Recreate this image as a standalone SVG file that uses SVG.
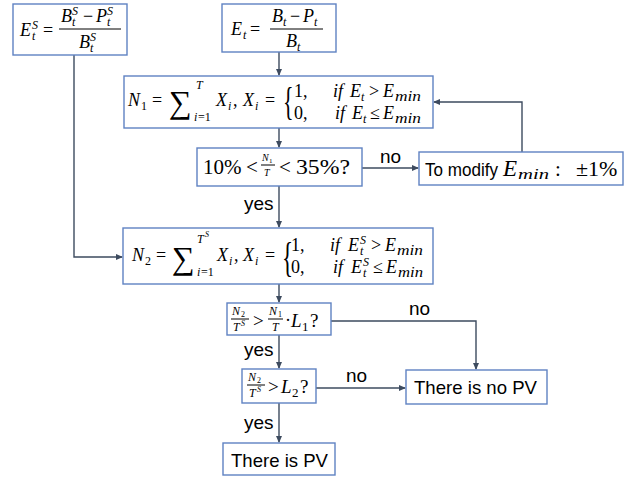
<svg xmlns="http://www.w3.org/2000/svg" width="634" height="477" viewBox="0 0 634 477">
<defs>
<marker id="ah" markerWidth="7" markerHeight="6" refX="6" refY="3" orient="auto" markerUnits="userSpaceOnUse">
<path d="M0,0 L7,3 L0,6 Z" fill="#3d4b5f"/>
</marker>
<style>
.box{fill:#fff;stroke:#5f82c2;stroke-width:1.4}
.con{fill:none;stroke:#3d4b5f;stroke-width:1.4}
.arr{marker-end:url(#ah)}
.mi{font-family:"Liberation Serif","DejaVu Serif",serif;font-style:italic;font-size:18px;fill:#000}
.mn{font-family:"Liberation Serif","DejaVu Serif",serif;font-size:18px;fill:#000}
.si{font-family:"Liberation Serif","DejaVu Serif",serif;font-style:italic;font-size:12px;fill:#000}
.sn{font-family:"Liberation Serif","DejaVu Serif",serif;font-size:12px;fill:#000}
.ti{font-family:"Liberation Serif","DejaVu Serif",serif;font-style:italic;font-size:12px;fill:#000}
.tn{font-family:"Liberation Serif","DejaVu Serif",serif;font-size:8px;fill:#000}
.lbl{font-family:"Liberation Sans","Open Sans",sans-serif;font-size:19px;fill:#000}
.bar{stroke:#000;stroke-width:1}
</style>
</defs>
<g id="connectors">
<path class="con arr" d="M279,52 V75"/>
<path class="con arr" d="M279,128 V147"/>
<path class="con arr" d="M279,186 V227"/>
<path class="con arr" d="M279,284 V302"/>
<path class="con arr" d="M279,335 V368"/>
<path class="con arr" d="M279,403 V442"/>
<path class="con arr" d="M362,168 H418"/>
<path class="con arr" d="M522,152 V102 H434"/>
<path class="con arr" d="M74,55 V257 H122"/>
<path class="con arr" d="M331,321 H476 V369"/>
<path class="con arr" d="M316,388 H405"/>
<text class="lbl" x="380" y="163">no</text>
<text class="lbl" x="409" y="315">no</text>
<text class="lbl" x="346" y="382">no</text>
<text class="lbl" x="244" y="210">yes</text>
<text class="lbl" x="244" y="356">yes</text>
<text class="lbl" x="244" y="429">yes</text>
</g>
<g id="ets">
<rect class="box" x="13" y="4" width="114" height="51"/>
<text class="mi" x="20" y="36">E</text>
<text class="si" x="32" y="40">t</text>
<text class="si" x="32" y="29">S</text>
<text class="mn" x="43" y="36">=</text>
<text class="mi" x="61" y="22">B</text>
<text class="si" x="72" y="26">t</text>
<text class="si" x="72" y="15">S</text>
<text class="mn" x="83" y="22">−</text>
<text class="mi" x="96" y="22">P</text>
<text class="si" x="107" y="26">t</text>
<text class="si" x="107" y="15">S</text>
<line class="bar" x1="59" y1="29" x2="121" y2="29"/>
<text class="mi" x="79" y="48">B</text>
<text class="si" x="90" y="52">t</text>
<text class="si" x="90" y="41">S</text>
</g>
<g id="et">
<rect class="box" x="222" y="4" width="114" height="48"/>
<text class="mi" x="231" y="35">E</text>
<text class="si" x="243" y="39">t</text>
<text class="mn" x="250" y="35">=</text>
<text class="mi" x="272" y="22">B</text>
<text class="si" x="283" y="26">t</text>
<text class="mn" x="290" y="22">−</text>
<text class="mi" x="303" y="22">P</text>
<text class="si" x="314" y="26">t</text>
<text class="mi" x="286" y="47">B</text>
<text class="si" x="297" y="51">t</text>
<line class="bar" x1="270" y1="29" x2="323" y2="29"/>
</g>
<g id="n1">
<rect class="box" x="124" y="76" width="309" height="52"/>
<text class="mi" x="128" y="106">N</text>
<text class="sn" x="141" y="110">1</text>
<text class="mn" x="152" y="106">=</text>
<text class="mn" x="169" y="113" style="font-size:32px">∑</text>
<text class="si" x="196" y="89">T</text>
<text class="si" x="194" y="121">i</text><text class="sn" x="198" y="121">=1</text>
<text class="mi" x="216" y="106">X</text>
<text class="si" x="228" y="110">i</text>
<text class="mn" x="233" y="106">,</text>
<text class="mi" x="243" y="106">X</text>
<text class="si" x="255" y="110">i</text>
<text class="mn" x="265" y="106">=</text>
<text class="mn" transform="translate(283,115) scale(0.55,1)" style="font-size:40px">{</text>
<text class="mn" x="294" y="97">1,</text>
<text class="mn" x="294" y="119">0,</text>
<text class="mi" x="333" y="97">if</text>
<text class="mi" x="350" y="97">E</text>
<text class="si" x="361" y="101">t</text>
<text class="mn" x="369" y="97">&gt;</text>
<text class="mi" x="383" y="97">E</text>
<text class="si" x="395" y="101" style="font-size:14px" textLength="26" lengthAdjust="spacingAndGlyphs">min</text>
<text class="mi" x="335" y="119">if</text>
<text class="mi" x="352" y="119">E</text>
<text class="si" x="363" y="123">t</text>
<text class="mn" x="370" y="119">≤</text>
<text class="mi" x="383" y="119">E</text>
<text class="si" x="395" y="123" style="font-size:14px" textLength="26" lengthAdjust="spacingAndGlyphs">min</text>
</g>
<g id="d1">
<rect class="box" x="197" y="148" width="165" height="38"/>
<text class="mn" x="203" y="174" style="font-size:21px">10%</text>
<text class="mn" x="246" y="174" style="font-size:21px">&lt;</text>
<text class="ti" x="262" y="161" style="font-size:10px">N</text>
<text class="tn" x="269" y="163" style="font-size:7px">1</text>
<line class="bar" x1="261" y1="165" x2="275" y2="165"/>
<text class="ti" x="264" y="176" style="font-size:10px">T</text>
<text class="mn" x="279" y="174" style="font-size:21px">&lt;</text>
<text class="mn" x="296" y="174" style="font-size:21px" textLength="54" lengthAdjust="spacingAndGlyphs">35%?</text>
</g>
<g id="modify">
<rect class="box" x="419" y="152" width="204" height="33"/>
<text class="lbl" x="425" y="176" style="font-size:18px" textLength="73" lengthAdjust="spacingAndGlyphs">To modify</text>
<text class="mi" x="503" y="176" style="font-size:23px">E</text>
<text class="si" x="518" y="179" style="font-size:15px" textLength="31" lengthAdjust="spacingAndGlyphs">min</text>
<text class="mn" x="555" y="176" style="font-size:21px">:</text>
<text class="mn" x="576" y="176" style="font-size:22px">±1%</text>
</g>
<g id="n2">
<rect class="box" x="123" y="228" width="310" height="56"/>
<text class="mi" x="132" y="261">N</text>
<text class="sn" x="145" y="265">2</text>
<text class="mn" x="156" y="261">=</text>
<text class="mn" x="172" y="269" style="font-size:32px">∑</text>
<text class="si" x="197" y="243">T</text>
<text class="tn" x="205" y="237" style="font-style:italic">S</text>
<text class="si" x="197" y="276">i</text><text class="sn" x="201" y="276">=1</text>
<text class="mi" x="217" y="261">X</text>
<text class="si" x="229" y="265">i</text>
<text class="mn" x="234" y="261">,</text>
<text class="mi" x="243" y="261">X</text>
<text class="si" x="255" y="265">i</text>
<text class="mn" x="265" y="261">=</text>
<text class="mn" transform="translate(282,271) scale(0.55,1)" style="font-size:42px">{</text>
<text class="mn" x="291" y="251">1,</text>
<text class="mn" x="291" y="273">0,</text>
<text class="mi" x="330" y="251">if</text>
<text class="mi" x="348" y="251">E</text>
<text class="si" x="360" y="255">t</text>
<text class="si" x="360" y="244">S</text>
<text class="mn" x="371" y="251">&gt;</text>
<text class="mi" x="385" y="251">E</text>
<text class="si" x="397" y="255" style="font-size:14px" textLength="26" lengthAdjust="spacingAndGlyphs">min</text>
<text class="mi" x="333" y="273">if</text>
<text class="mi" x="351" y="273">E</text>
<text class="si" x="363" y="277">t</text>
<text class="si" x="363" y="266">S</text>
<text class="mn" x="373" y="273">≤</text>
<text class="mi" x="386" y="273">E</text>
<text class="si" x="398" y="277" style="font-size:14px" textLength="25" lengthAdjust="spacingAndGlyphs">min</text>
</g>
<g id="d2">
<rect class="box" x="227" y="303" width="104" height="32"/>
<text class="ti" x="232" y="315">N</text>
<text class="tn" x="241" y="317">2</text>
<line class="bar" x1="231" y1="319" x2="249" y2="319"/>
<text class="ti" x="233" y="331">T</text>
<text class="tn" x="241" y="326" style="font-style:italic">S</text>
<text class="mn" x="253" y="327" style="font-size:19px">&gt;</text>
<text class="ti" x="269" y="315">N</text>
<text class="tn" x="278" y="317">1</text>
<line class="bar" x1="268" y1="319" x2="283" y2="319"/>
<text class="ti" x="272" y="331">T</text>
<text class="mn" x="285" y="326" style="font-size:18px">·</text>
<text class="mi" x="291" y="327" style="font-size:19px">L</text>
<text class="sn" x="302" y="331" style="font-size:13px">1</text>
<text class="mn" x="310" y="327" style="font-size:19px">?</text>
</g>
<g id="d3">
<rect class="box" x="242" y="369" width="74" height="34"/>
<text class="ti" x="248" y="381">N</text>
<text class="tn" x="257" y="383">2</text>
<line class="bar" x1="247" y1="385" x2="265" y2="385"/>
<text class="ti" x="249" y="397">T</text>
<text class="tn" x="257" y="392" style="font-style:italic">S</text>
<text class="mn" x="268" y="393" style="font-size:19px">&gt;</text>
<text class="mi" x="281" y="393" style="font-size:19px">L</text>
<text class="sn" x="292" y="397" style="font-size:13px">2</text>
<text class="mn" x="300" y="393" style="font-size:19px">?</text>
</g>
<g id="nopv">
<rect class="box" x="406" y="370" width="141" height="34"/>
<text class="lbl" x="414" y="394" textLength="123" lengthAdjust="spacingAndGlyphs">There is no PV</text>
</g>
<g id="pv">
<rect class="box" x="223" y="443" width="112" height="32"/>
<text class="lbl" x="231" y="467" textLength="97" lengthAdjust="spacingAndGlyphs">There is PV</text>
</g>
</svg>
